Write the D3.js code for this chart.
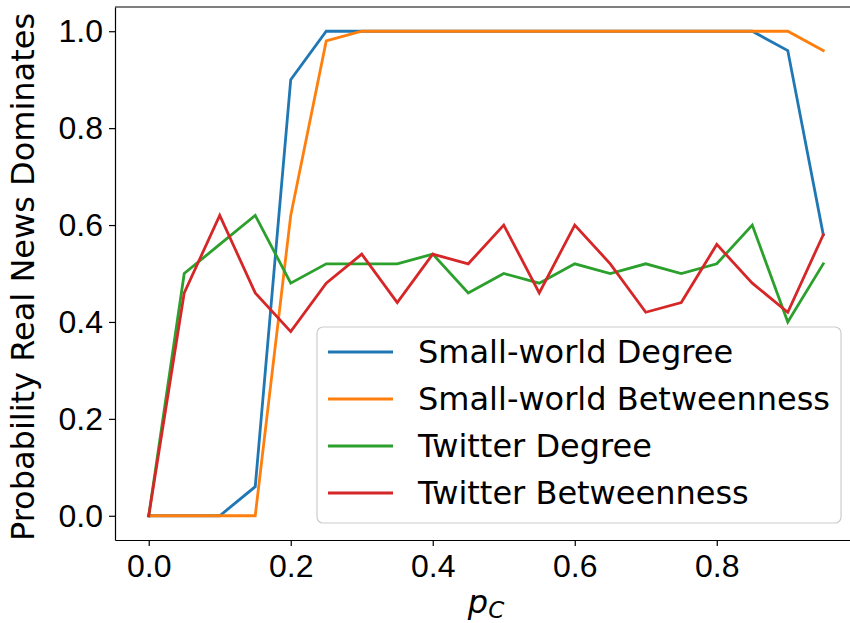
<!DOCTYPE html>
<html>
<head>
<meta charset="utf-8">
<script src="https://cdn.jsdelivr.net/npm/d3@7"></script>
<style>
  body { margin: 0; background: #fff; }
  svg { display: block; font-family: "DejaVu Sans", sans-serif; }
  .axis text { font-size: 32px; fill: #000; }
  .axis path, .axis line { stroke: #000; stroke-width: 1.2; }
</style>
</head>
<body>
<script>
const pc = [0, 0.05, 0.1, 0.15, 0.2, 0.25, 0.3, 0.35, 0.4, 0.45, 0.5, 0.55, 0.6, 0.65, 0.7, 0.75, 0.8, 0.85, 0.9, 0.95];
const swDegree = [0, 0, 0, 0.06, 0.9, 1, 1, 1, 1, 1, 1, 1, 1, 1, 1, 1, 1, 1, 0.96, 0.58];
const swBetweenness = [0, 0, 0, 0, 0.62, 0.98, 1, 1, 1, 1, 1, 1, 1, 1, 1, 1, 1, 1, 1, 0.96];
const twDegree = [0, 0.5, 0.56, 0.62, 0.48, 0.52, 0.52, 0.52, 0.54, 0.46, 0.5, 0.48, 0.52, 0.5, 0.52, 0.5, 0.52, 0.6, 0.4, 0.52];
const twBetweenness = [0, 0.46, 0.62, 0.46, 0.38, 0.48, 0.54, 0.44, 0.54, 0.52, 0.6, 0.46, 0.6, 0.52, 0.42, 0.44, 0.56, 0.48, 0.42, 0.58];
const seriesNames = ["Small-world Degree", "Small-world Betweenness", "Twitter Degree", "Twitter Betweenness"];
const colors = ["#1f77b4", "#ff7f0e", "#2ca02c", "#d62728"];
const xTicks = [0, 0.2, 0.4, 0.6, 0.8];
const yTicks = [0, 0.2, 0.4, 0.6, 0.8, 1.0];

const W = 850, H = 623;
const plotL = 115, plotR = 857, plotT = 7, plotB = 540;

const svg = d3.select("body").append("svg")
    .attr("width", W)
    .attr("height", H);

const x = d3.scaleLinear().domain([-0.0475, 0.9975]).range([plotL, plotR]);
const y = d3.scaleLinear().domain([-0.05, 1.05]).range([plotB, plotT]);

// axes
svg.append("g")
    .attr("class", "axis")
    .attr("transform", `translate(0, ${plotB})`)
    .call(d3.axisBottom(x).tickValues(xTicks).tickFormat(d3.format(".1f")).tickSize(6).tickSizeOuter(0).tickPadding(8));

svg.append("g")
    .attr("class", "axis")
    .attr("transform", `translate(${plotL}, 0)`)
    .call(d3.axisLeft(y).tickValues(yTicks).tickFormat(d3.format(".1f")).tickSize(6).tickSizeOuter(0).tickPadding(6));

// top and right spines
svg.append("line")
    .attr("x1", plotL).attr("x2", plotR)
    .attr("y1", plotT).attr("y2", plotT)
    .attr("stroke", "#000").attr("stroke-width", 1.2);
svg.append("line")
    .attr("x1", plotR).attr("x2", plotR)
    .attr("y1", plotT).attr("y2", plotB)
    .attr("stroke", "#000").attr("stroke-width", 1.2);

// lines
const allSeries = [swDegree, swBetweenness, twDegree, twBetweenness];
const line = d3.line()
    .x((d, i) => x(pc[i]))
    .y(d => y(d));

svg.selectAll("path.series")
    .data(allSeries)
    .enter()
    .append("path")
        .attr("class", "series")
        .attr("d", line)
        .attr("fill", "none")
        .attr("stroke", (d, i) => colors[i])
        .attr("stroke-width", 2.8)
        .attr("stroke-linejoin", "miter")
        .attr("stroke-linecap", "square");

// axis labels
svg.append("text")
    .attr("transform", `translate(34, 277) rotate(-90)`)
    .attr("text-anchor", "middle")
    .style("font-size", "32px")
    .text("Probability Real News Dominates");

const xl = svg.append("text")
    .attr("x", 486)
    .attr("y", 613)
    .attr("text-anchor", "middle")
    .style("font-size", "32px")
    .style("font-style", "italic");
xl.append("tspan").text("p");
xl.append("tspan").attr("dy", 5).style("font-size", "23px").text("C");

// legend
const legX = 317, legY = 327, rowGap = 47, firstRow = 352, textX = 418;
const legBox = svg.append("rect")
    .attr("x", legX).attr("y", legY)
    .attr("rx", 6).attr("ry", 6)
    .attr("height", 196)
    .attr("fill", "#fff").attr("fill-opacity", 0.8)
    .attr("stroke", "#ccc").attr("stroke-width", 1.2);

const items = svg.selectAll("g.leg")
    .data(seriesNames)
    .enter()
    .append("g")
        .attr("class", "leg")
        .attr("transform", (d, i) => `translate(0, ${firstRow + i * rowGap})`);
items.append("line")
    .attr("x1", 328).attr("x2", 393)
    .attr("stroke", (d, i) => colors[i])
    .attr("stroke-width", 2.8);
items.append("text")
    .attr("x", textX)
    .attr("dy", "0.35em")
    .style("font-size", "32px")
    .text(d => d);

let maxW = 0;
items.selectAll("text").each(function() { maxW = Math.max(maxW, this.getComputedTextLength()); });
legBox.attr("width", textX + maxW + 11 - legX);
</script>
</body>
</html>
